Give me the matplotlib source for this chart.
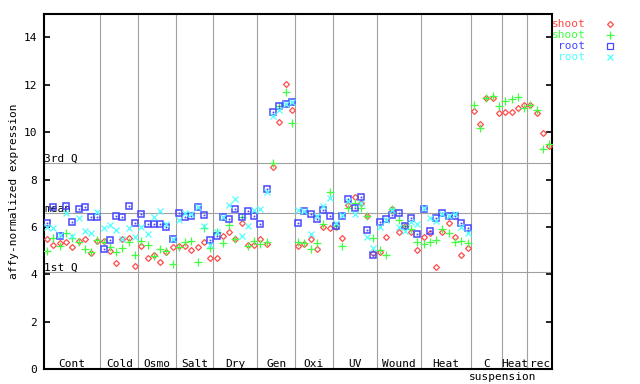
import numpy as np
import matplotlib
matplotlib.use("Agg")
import matplotlib.pyplot as plt

# groups along the x axis (number of samples in each)
groups = ["Cont", "Cold", "Osmo", "Salt", "Dry", "Gen", "Oxi", "UV", "Wound", "Heat", "C", "Heat", "rec"]
group_sizes = [9, 6, 6, 6, 7, 6, 6, 7, 7, 8, 5, 4, 4]

# shoot (red diamonds)
shoot_red = [5.48, 5.24, 5.34, 5.38, 5.15, 5.42, 5.48, 4.89, 5.42,
             5.42, 5.00, 4.50, 5.48, 5.55, 4.36,
             5.20, 4.68, 4.82, 4.54, 4.96, 5.15,
             5.20, 5.20, 5.03, 5.15, 5.36, 4.68,
             4.68, 5.62, 5.80, 5.48, 6.18, 5.24, 5.24,
             5.50, 5.27, 8.52, 10.42, 12.02, 10.94,
             5.20, 5.28, 5.48, 5.06, 5.99, 5.95,
             6.00, 5.52, 6.93, 7.28, 7.00, 6.47, 4.90,
             4.96, 5.57, 6.75, 5.78, 6.04, 5.78, 5.03,
             5.57, 5.74, 4.30, 5.80, 6.18, 5.57, 4.82, 5.10,
             10.91, 10.35, 11.43, 11.46, 10.79,
             10.87, 10.87, 11.01, 11.15,
             11.15, 10.79, 9.95, 9.43]

# shoot (green plus)
shoot_green = [4.99, 5.52, 5.20, 5.74, 5.52, 5.38, 5.06, 4.95, 5.45,
               5.38, 5.15, 4.96, 5.10, 5.36, 4.82,
               5.42, 5.24, 4.78, 5.06, 4.99, 4.44,
               5.15, 5.36, 5.41, 4.51, 5.95, 5.10,
               5.80, 5.34, 6.09, 5.48, 6.41, 5.20, 5.42,
               5.27, 5.36, 8.71, 11.10, 11.68, 10.37,
               5.36, 5.34, 5.06, 5.31, 6.13, 7.49,
               6.05, 5.21, 6.79, 7.00, 6.79, 6.47, 5.52,
               5.03, 4.82, 6.75, 6.30, 6.04, 5.92, 5.38,
               5.28, 5.38, 5.45, 5.90, 5.76, 5.38, 5.41, 5.31,
               11.15, 10.16, 11.43, 11.53, 11.10,
               11.32, 11.39, 11.47, 11.01,
               11.15, 10.94, 9.28, 9.50]

nan = np.nan
# root (blue squares)
root_blue = [6.16, 6.86, 5.62, 6.90, 6.20, 6.76, 6.86, 6.41, 6.41,
             5.06, 5.45, 6.48, 6.44, 6.89, 6.16,
             6.55, 6.13, 6.13, 6.13, 5.99, 5.51,
             6.58, 6.41, 6.47, 6.83, 6.51, 5.45,
             5.62, 6.41, 6.33, 6.76, 6.41, 6.68, 6.48,
             6.11, 7.60, 10.87, 11.10, 11.17, 11.29,
             6.16, 6.66, 6.55, 6.33, 6.72, 6.48,
             6.04, 6.47, 7.17, 6.79, 7.27, 5.88, 4.82,
             6.20, 6.34, 6.51, 6.58, 6.04, 6.37, 5.71,
             6.75, 5.85, 6.37, 6.58, 6.47, 6.47, 6.16, 5.95] + [nan] * 13

# root (cyan crosses)
root_cyan = [5.99, 5.95, 5.65, 6.58, 5.62, 6.37, 5.85, 5.76, 6.65,
             5.95, 6.09, 5.88, 5.48, 5.95, 5.57,
             5.99, 5.71, 6.41, 6.69, 6.13, 5.51,
             6.30, 6.58, 6.55, 6.86, 6.04, 5.24,
             5.80, 6.41, 6.92, 7.17, 5.63, 6.06, 6.72,
             6.75, 7.49, 10.68, 10.94, 11.18, 11.27,
             6.72, 6.66, 5.71, 6.45, 6.89, 7.21,
             6.16, 6.51, 7.10, 6.55, 7.00, 5.60, 5.10,
             6.02, 6.30, 6.72, 6.02, 5.83, 6.20, 6.13,
             6.80, 6.37, 6.27, 6.55, 6.45, 6.55, 5.99, 5.76] + [nan] * 13

q1, mean, q3 = 4.09, 6.60, 8.69

red, green, blue, cyan = "#ff4a4a", "#40ff40", "#4848ff", "#50ffff"
grid_c = "#a0a0a0"
plt.rcParams["font.family"] = "DejaVu Sans Mono"
plt.rcParams["font.size"] = 8

x = np.arange(1, len(shoot_red) + 1)
bounds = np.cumsum([0] + group_sizes) + 0.5

fig = plt.figure(figsize=(6.4, 3.84), dpi=100)
W, H = 640, 384
L, R, T, B = 44, 552.3, 13.6, 369.3
ax = fig.add_axes([L / W, 1 - B / H, (R - L) / W, (B - T) / H])
ax.set_xlim(0.5, len(x) + 0.5)
ax.set_ylim(0, 15)

for b in bounds[1:-1]:
    ax.axvline(b, color=grid_c, lw=0.8, zorder=1)
for v in (q1, mean, q3):
    ax.axhline(v, color=grid_c, lw=0.8, zorder=1)
ax.text(0.55, q3 + 0.05, "3rd Q", ha="left", va="baseline")
ax.text(0.55, mean + 0.05, "mean", ha="left", va="baseline")
ax.text(0.55, q1 + 0.05, "1st Q", ha="left", va="baseline")

ax.plot(x, shoot_red, ls="none", marker="D", ms=3.0, mfc="none", mec=red, mew=0.9, zorder=3)
ax.plot(x, shoot_green, ls="none", marker="+", ms=5.5, mec=green, mew=0.9, zorder=3)
ax.plot(x, root_blue, ls="none", marker="s", ms=4.0, mfc="none", mec=blue, mew=1.1, zorder=3)
ax.plot(x, root_blue, ls="none", marker="s", ms=0.9, mfc=blue, mec=blue, mew=0.3, zorder=3)
ax.plot(x, root_cyan, ls="none", marker="x", ms=4.0, mec=cyan, mew=0.9, zorder=3)

for i, g in enumerate(groups):
    c = (bounds[i] + bounds[i + 1]) / 2
    ax.text(c, 0.21, g, ha="center", va="center")
ax.text(73.6, -0.31, "suspension", ha="center", va="center", clip_on=False)

ax.set_xticks([])
ax.set_yticks(range(0, 15, 2))
ax.tick_params(axis="y", direction="in", length=4.5, width=1.2, pad=5, right=True)
for s in ax.spines.values():
    s.set_linewidth(1.5)
ax.set_ylabel("affy-normalized expression", labelpad=3)

# legend at the right, outside the axes
labels = ["shoot", "shoot", "root", "root"]
colors = [red, green, blue, cyan]
markers = ["D", "+", "s", "x"]
for k, (lab, col, mk) in enumerate(zip(labels, colors, markers)):
    yy = 1 - (23.7 + 11 * k) / H
    fig.text(585.5 / W, yy, lab, color=col, ha="right", va="center")
    kw = dict(mfc="none") if mk in ("D", "s") else {}
    size = {"D": 3.0, "+": 5.5, "s": 4.0, "x": 4.0}[mk]
    fig.lines.append(plt.Line2D([609.5 / W], [yy], transform=fig.transFigure, ls="none",
                                marker=mk, ms=size, mec=col, mew=0.9, **kw))

fig.savefig("out.png", dpi=100)
